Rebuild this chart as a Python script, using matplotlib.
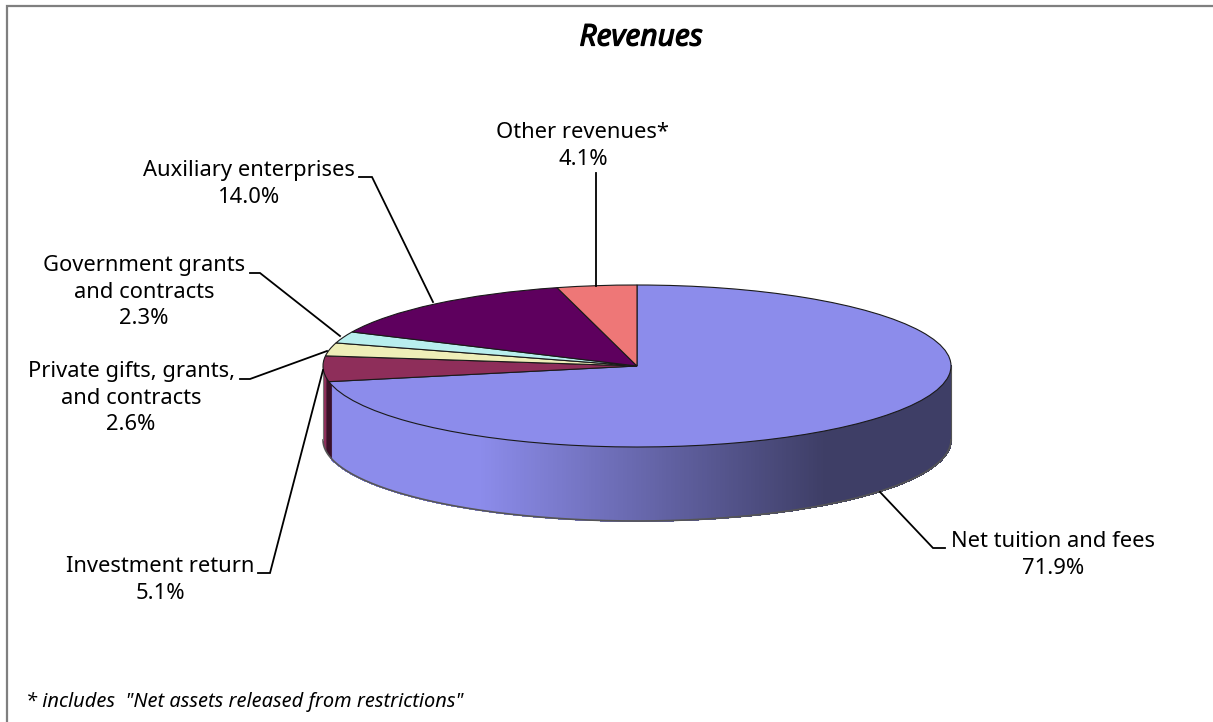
import numpy as np
import matplotlib
matplotlib.use('Agg')
import matplotlib.pyplot as plt
import matplotlib.patheffects as pe
from matplotlib.collections import PolyCollection
from matplotlib.colors import to_rgb

plt.rcParams['font.family'] = ['Noto Sans', 'DejaVu Sans']

categories = ['Net tuition and fees', 'Investment return',
              'Private gifts, grants,\nand contracts',
              'Government grants\nand contracts',
              'Auxiliary enterprises', 'Other revenues*']
shares = [71.9, 5.1, 2.6, 2.3, 14.0, 4.1]
colors = ['#8C8CEB', '#8E2E5A', '#EEEEB8', '#B8EEEE', '#5E005E', '#EE7777']

W, H = 1213, 722
CX, CY, RX, RY, DEPTH = 637, 366, 314, 81, 74

fig = plt.figure(figsize=(W / 100, H / 100), dpi=100, facecolor='white')

# pie axes: one unit is RX px across and RY px down, that squashes the circle
ax = fig.add_axes([0, 0, 1, 1])
ax.pie(shares, colors=colors, startangle=90, counterclock=False, radius=1,
       wedgeprops={'edgecolor': '#1a1a1a', 'linewidth': 0.8, 'zorder': 3})
ax.set_aspect('auto')
ax.set_xlim(-CX / RX, (W - CX) / RX)
ax.set_ylim((CY - H) / RY, CY / RY)

d = DEPTH / RY
light, dark = np.array(to_rgb(colors[0])), np.array(to_rgb('#3E3E66'))

# side wall of the first slice, thin facets for the gradient
end_angle = 90 - shares[0] * 3.6 + 360
theta = np.radians(np.linspace(end_angle + 2, 360, 400))
facets, shades = [], []
for a, b in zip(theta[:-1], theta[1:]):
    x0, x1 = np.cos(a), np.cos(b)
    y0, y1 = np.sin(a), np.sin(b)
    facets.append([(x0, y0), (x1, y1), (x1, y1 - d), (x0, y0 - d)])
    t = np.clip(((x0 + x1) / 2 + 0.5) / 1.1, 0, 1)
    shades.append(light + (dark - light) * t)
ax.add_collection(PolyCollection(facets, facecolors=shades, edgecolors=shades,
                                 linewidths=0.8, antialiased=False, zorder=1))

# side wall of the second slice, lit part then dark part
for a0, a1, col in ((180, end_angle - 3, colors[1]), (end_angle - 3, end_angle + 2, '#3A1028')):
    rng = np.radians(np.linspace(a0, a1, 20))
    ax.fill_between(np.cos(rng), np.sin(rng) - d, np.sin(rng), color=col, lw=0.4, zorder=1)

# outline of the wall
bottom = np.radians(np.linspace(180, 360, 300))
ax.plot(np.cos(bottom), np.sin(bottom) - d, color='#555555', lw=1.2, zorder=2)
ax.plot([1, 1], [0, -d], color='#555555', lw=0.8, zorder=2)
ax.plot([-1, -1], [0, -d], color='#777777', lw=0.8, zorder=2)

# overlay in image pixels for labels, leaders, frame
ov = fig.add_axes([0, 0, 1, 1])
ov.set_xlim(0, W)
ov.set_ylim(H, 0)
ov.axis('off')
ov.patch.set_alpha(0)

# only the top and left frame lines are inside the picture
ov.plot([7, 7, W], [H, 6, 6], color='#7f7f7f', lw=1.6, solid_joinstyle='miter')

label_pos = [(1053, 555), (160, 580), (131, 398), (144, 292), (249, 184), (583, 146)]
leaders = [
    [(945, 548), (933, 548), (880, 492)],
    [(258, 573), (270, 573), (323, 370)],
    [(240, 379), (250, 379), (327, 351)],
    [(250, 273), (260, 273), (340, 336)],
    [(359, 177), (372, 177), (433, 302)],
    [(596, 173), (596, 286)],
]
for name, share, (x, y), pts in zip(categories, shares, label_pos, leaders):
    ov.text(x, y, f'{name}\n{share:.1f}%', ha='center', va='center', fontsize=15.8,
            color='black', linespacing=1.33)
    ov.plot(*zip(*pts), color='black', lw=1.3, solid_joinstyle='miter')

# the bold italic is not installed, a thin stroke thickens the italic
title = ov.text(641, 38, 'Revenues', ha='center', va='center', fontsize=21.5, style='italic',
                color='black')
title.set_path_effects([pe.withStroke(linewidth=0.9, foreground='black')])
ov.text(26, 702, '* includes  "Net assets released from restrictions"', ha='left', va='center',
        fontsize=14.4, style='italic', color='black')

fig.savefig('out.png', dpi=100)
